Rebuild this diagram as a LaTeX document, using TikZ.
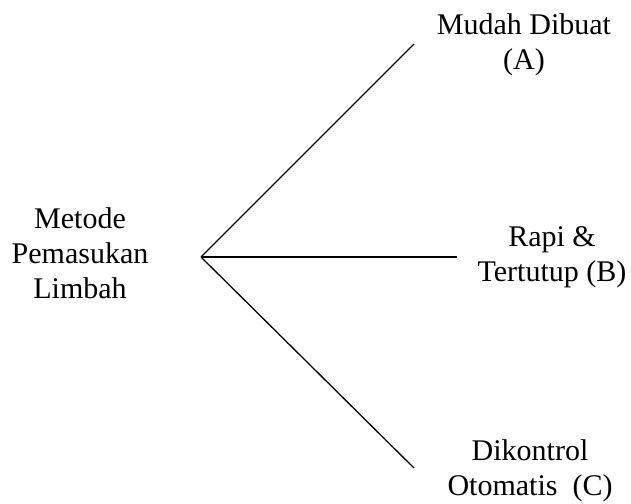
\documentclass[tikz,border=0pt]{standalone}
\usepackage{fontspec}
\setmainfont{Liberation Serif}
\begin{document}
\begin{tikzpicture}[x=1pt,y=-1pt,
  lbl/.style={align=center,inner sep=0pt,font=\fontsize{30}{35}\selectfont},
  branch/.style={line width=1.3pt,black}]
\useasboundingbox (0,0) rectangle (631,503);
\coordinate (apex) at (201,257);
\coordinate (endA) at (414,44);
\coordinate (endB) at (457,257);
\coordinate (endC) at (414,468);
\draw[branch] (apex) -- (endA);
\draw[branch] (apex) -- (endB);
\draw[branch] (apex) -- (endC);
\node[lbl] (root) at (80,253) {Metode\\Pemasukan\\Limbah};
\node[lbl] (A) at (524,44.5) {Mudah Dibuat\\(A)};
\node[lbl] (B) at (552,257.5) {Rapi \&\\Tertutup (B)};
\node[lbl] (C) at (530,470.5) {Dikontrol\\Otomatis~ (C)};
\end{tikzpicture}
\end{document}
